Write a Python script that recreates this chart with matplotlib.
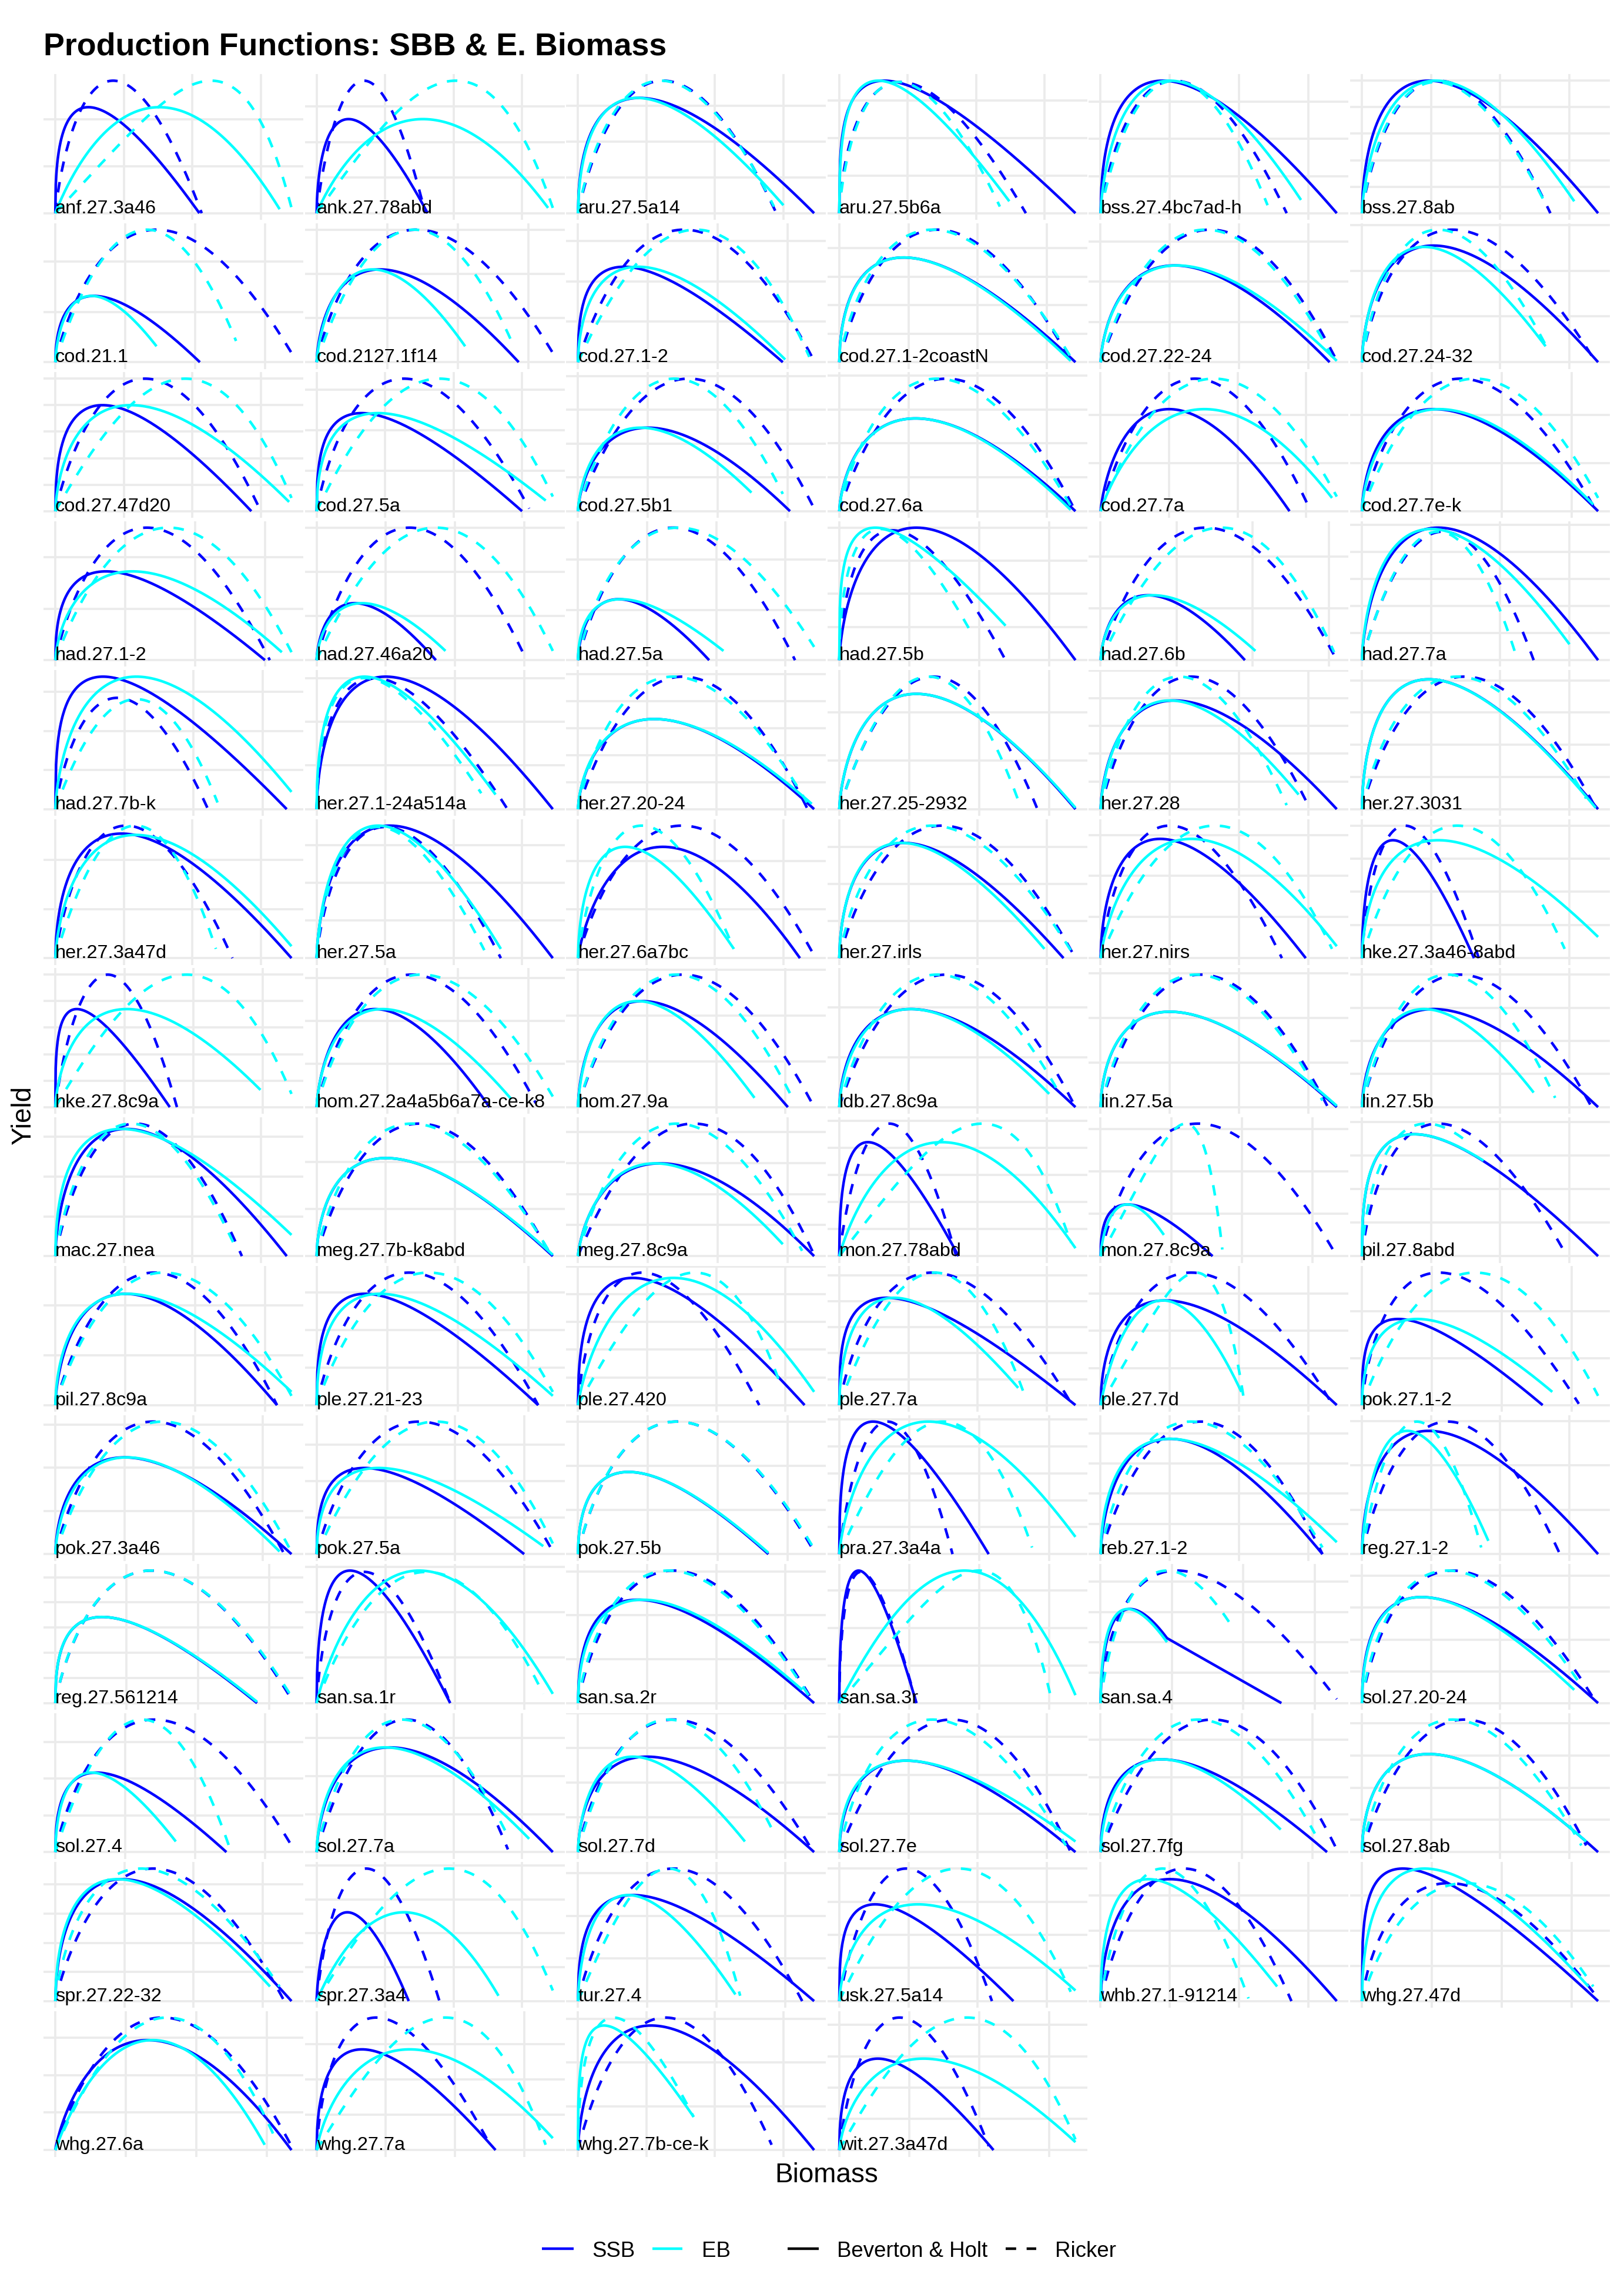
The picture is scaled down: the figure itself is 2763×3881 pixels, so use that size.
import numpy as np
import matplotlib
matplotlib.use("Agg")
import matplotlib.pyplot as plt
from matplotlib.lines import Line2D

plt.rcParams['font.family'] = ['Liberation Sans', 'DejaVu Sans']

# stock names, in panel order (6 per row)
stocks = [
    "anf.27.3a46", "ank.27.78abd", "aru.27.5a14", "aru.27.5b6a", "bss.27.4bc7ad-h", "bss.27.8ab",
    "cod.21.1", "cod.2127.1f14", "cod.27.1-2", "cod.27.1-2coastN", "cod.27.22-24", "cod.27.24-32",
    "cod.27.47d20", "cod.27.5a", "cod.27.5b1", "cod.27.6a", "cod.27.7a", "cod.27.7e-k",
    "had.27.1-2", "had.27.46a20", "had.27.5a", "had.27.5b", "had.27.6b", "had.27.7a",
    "had.27.7b-k", "her.27.1-24a514a", "her.27.20-24", "her.27.25-2932", "her.27.28", "her.27.3031",
    "her.27.3a47d", "her.27.5a", "her.27.6a7bc", "her.27.irls", "her.27.nirs", "hke.27.3a46-8abd",
    "hke.27.8c9a", "hom.27.2a4a5b6a7a-ce-k8", "hom.27.9a", "ldb.27.8c9a", "lin.27.5a", "lin.27.5b",
    "mac.27.nea", "meg.27.7b-k8abd", "meg.27.8c9a", "mon.27.78abd", "mon.27.8c9a", "pil.27.8abd",
    "pil.27.8c9a", "ple.27.21-23", "ple.27.420", "ple.27.7a", "ple.27.7d", "pok.27.1-2",
    "pok.27.3a46", "pok.27.5a", "pok.27.5b", "pra.27.3a4a", "reb.27.1-2", "reg.27.1-2",
    "reg.27.561214", "san.sa.1r", "san.sa.2r", "san.sa.3r", "san.sa.4", "sol.27.20-24",
    "sol.27.4", "sol.27.7a", "sol.27.7d", "sol.27.7e", "sol.27.7fg", "sol.27.8ab",
    "spr.27.22-32", "spr.27.3a4", "tur.27.4", "usk.27.5a14", "whb.27.1-91214", "whg.27.47d",
    "whg.27.6a", "whg.27.7a", "whg.27.7b-ce-k", "wit.27.3a47d",
]

# each curve: (biomass at max yield, max yield, last biomass, yield at last biomass)
# relative units: panel's largest biomass / yield ~ 1
ssb_bh = [
    (0.14, 0.80, 0.61, 0), (0.135, 0.71, 0.47, 0), (0.26, 0.87, 1.0, 0), (0.19, 1.0, 1.0, 0), (0.26, 1.0, 0.99, 0), (0.28, 1.0, 0.99, 0),
    (0.16, 0.50, 0.60, 0), (0.26, 0.70, 0.83, 0), (0.19, 0.72, 0.85, 0), (0.27, 0.79, 0.99, 0), (0.31, 0.73, 0.96, 0), (0.30, 0.88, 0.99, 0),
    (0.20, 0.80, 0.83, 0), (0.19, 0.74, 0.87, 0), (0.29, 0.63, 0.88, 0), (0.32, 0.70, 0.99, 0), (0.29, 0.77, 0.80, 0), (0.30, 0.77, 0.98, 0),
    (0.21, 0.67, 0.87, 0), (0.16, 0.43, 0.50, 0), (0.17, 0.46, 0.55, 0), (0.32, 1.0, 0.98, 0), (0.18, 0.49, 0.55, 0), (0.32, 1.0, 0.99, 0),
    (0.20, 1.0, 0.97, 0), (0.29, 1.0, 0.99, 0), (0.32, 0.68, 0.99, 0), (0.32, 0.87, 0.98, 0), (0.31, 0.82, 0.99, 0), (0.28, 0.98, 0.99, 0),
    (0.28, 0.94, 1.0, 0), (0.31, 1.0, 1.0, 0), (0.36, 0.84, 0.94, 0), (0.27, 0.87, 0.94, 0), (0.25, 0.90, 0.86, 0), (0.13, 0.89, 0.47, 0),
    (0.09, 0.74, 0.48, 0), (0.24, 0.74, 0.71, 0), (0.27, 0.80, 0.88, 0), (0.30, 0.74, 0.99, 0), (0.29, 0.72, 0.99, 0), (0.30, 0.74, 0.99, 0),
    (0.30, 0.96, 0.98, 0), (0.29, 0.74, 0.99, 0), (0.34, 0.70, 0.98, 0), (0.12, 0.86, 0.50, 0), (0.11, 0.39, 0.46, 0), (0.22, 0.92, 0.99, 0),
    (0.29, 0.84, 0.92, 0), (0.20, 0.84, 0.91, 0), (0.23, 0.96, 0.95, 0), (0.20, 0.81, 0.99, 0), (0.27, 0.79, 0.99, 0), (0.15, 0.65, 0.75, 0),
    (0.29, 0.73, 0.99, 0), (0.20, 0.65, 0.87, 0), (0.21, 0.62, 0.79, 0), (0.14, 1.0, 0.62, 0), (0.29, 0.87, 0.93, 0), (0.28, 0.93, 0.99, 0),
    (0.19, 0.65, 0.82, 0), (0.14, 1.0, 0.56, 0), (0.25, 0.78, 0.99, 0), (0.08, 1.0, 0.32, 0), (0.12, 0.71, 0.735, 0), (0.25, 0.80, 0.99, 0),
    (0.17, 0.60, 0.71, 0), (0.31, 0.79, 1.0, 0), (0.29, 0.72, 0.99, 0), (0.28, 0.69, 0.99, 0), (0.25, 0.70, 0.93, 0), (0.28, 0.74, 0.99, 0),
    (0.28, 0.92, 0.99, 0), (0.13, 0.67, 0.39, 0), (0.23, 0.80, 0.99, 0), (0.15, 0.73, 0.73, 0), (0.29, 0.92, 0.99, 0), (0.17, 1.0, 0.98, 0),
    (0.38, 0.83, 0.97, 0), (0.19, 0.76, 0.75, 0), (0.31, 0.94, 1.0, 0), (0.16, 0.69, 0.64, 0),
]

ssb_ricker = [
    (0.245, 1.0, 0.62, 0), (0.20, 1.0, 0.46, 0), (0.36, 1.0, 0.84, 0), (0.26, 0.99, 0.79, 0), (0.31, 1.0, 0.78, 0), (0.32, 1.0, 0.79, 0),
    (0.42, 1.0, 0.98, 0.07), (0.41, 1.0, 0.97, 0.07), (0.44, 1.0, 0.98, 0.01), (0.41, 1.0, 0.97, 0.01), (0.46, 1.0, 0.99, 0.01), (0.38, 1.0, 0.98, 0),
    (0.38, 1.0, 0.87, 0), (0.37, 1.0, 0.90, 0.02), (0.46, 1.0, 0.98, 0.02), (0.45, 1.0, 0.99, 0), (0.40, 1.0, 0.89, 0), (0.41, 1.0, 0.96, 0.04),
    (0.38, 1.0, 0.89, 0), (0.39, 1.0, 0.88, 0), (0.40, 1.0, 0.91, 0), (0.22, 0.98, 0.69, 0), (0.40, 1.0, 0.90, 0), (0.34, 0.97, 0.72, 0),
    (0.26, 0.84, 0.64, 0), (0.24, 0.99, 0.80, 0), (0.44, 1.0, 0.96, 0.01), (0.39, 1.0, 0.82, 0.01), (0.38, 1.0, 0.87, 0.03), (0.43, 1.0, 0.98, 0.01),
    (0.30, 1.0, 0.75, 0), (0.29, 0.99, 0.78, 0), (0.44, 1.0, 1.0, 0.02), (0.43, 1.0, 0.99, 0), (0.29, 1.0, 0.76, 0), (0.18, 1.0, 0.49, 0),
    (0.22, 1.0, 0.51, 0), (0.39, 1.0, 0.90, 0.03), (0.44, 1.0, 0.99, 0), (0.45, 1.0, 0.99, 0), (0.42, 1.0, 0.95, 0.01), (0.41, 1.0, 0.96, 0.01),
    (0.34, 1.0, 0.79, 0), (0.43, 1.0, 0.98, 0.01), (0.48, 1.0, 0.98, 0.01), (0.21, 1.0, 0.49, 0), (0.40, 1.0, 0.97, 0), (0.32, 1.0, 0.85, 0.03),
    (0.41, 1.0, 0.92, 0), (0.38, 1.0, 0.91, 0), (0.27, 1.0, 0.76, 0), (0.39, 1.0, 0.97, 0.02), (0.38, 1.0, 0.97, 0.01), (0.32, 1.0, 0.90, 0.01),
    (0.41, 1.0, 0.96, 0), (0.43, 1.0, 0.99, 0.02), (0.41, 1.0, 0.98, 0.02), (0.20, 1.0, 0.47, 0), (0.42, 1.0, 0.93, 0), (0.36, 1.0, 0.83, 0),
    (0.39, 1.0, 0.96, 0.03), (0.20, 0.99, 0.56, 0), (0.40, 1.0, 0.98, 0.03), (0.09, 0.99, 0.32, 0), (0.31, 1.0, 0.96, 0.03), (0.38, 1.0, 0.98, 0.01),
    (0.41, 1.0, 0.98, 0.05), (0.38, 1.0, 0.81, 0.02), (0.40, 1.0, 0.98, 0.02), (0.47, 1.0, 0.97, 0), (0.46, 1.0, 0.97, 0.02), (0.43, 1.0, 0.94, 0.05),
    (0.41, 1.0, 0.96, 0), (0.21, 1.0, 0.52, 0), (0.40, 1.0, 0.94, 0), (0.28, 1.0, 0.64, 0), (0.35, 1.0, 0.80, 0), (0.36, 0.89, 0.98, 0.02),
    (0.44, 1.0, 0.97, 0.03), (0.25, 1.0, 0.73, 0.03), (0.37, 1.0, 0.82, 0.04), (0.25, 1.0, 0.62, 0.03),
]

eb_bh = [
    (0.44, 0.80, 0.95, 0.03), (0.45, 0.71, 0.98, 0.04), (0.25, 0.87, 0.87, 0.06), (0.165, 1.0, 0.72, 0.09), (0.29, 1.0, 0.84, 0.10), (0.31, 1.0, 0.89, 0.09),
    (0.15, 0.50, 0.42, 0.12), (0.23, 0.70, 0.61, 0.12), (0.25, 0.72, 0.86, 0.02), (0.27, 0.79, 0.97, 0.01), (0.32, 0.73, 0.99, 0.01), (0.26, 0.87, 0.77, 0.12),
    (0.32, 0.80, 0.99, 0.07), (0.26, 0.74, 0.97, 0.08), (0.26, 0.63, 0.72, 0.14), (0.32, 0.70, 0.97, 0.01), (0.44, 0.77, 0.98, 0.10), (0.32, 0.77, 0.96, 0.05),
    (0.32, 0.67, 0.94, 0.06), (0.19, 0.43, 0.54, 0.07), (0.18, 0.46, 0.61, 0.07), (0.15, 1.0, 0.69, 0.26), (0.20, 0.49, 0.59, 0.07), (0.29, 0.99, 0.87, 0.12),
    (0.34, 1.0, 0.99, 0.13), (0.20, 1.0, 0.75, 0.11), (0.32, 0.68, 0.98, 0.04), (0.32, 0.87, 0.98, 0.01), (0.29, 0.82, 0.83, 0.11), (0.28, 0.98, 0.98, 0.01),
    (0.34, 0.93, 1.0, 0.09), (0.26, 1.0, 0.78, 0.07), (0.20, 0.84, 0.66, 0.07), (0.26, 0.87, 0.86, 0.07), (0.38, 0.90, 0.99, 0.09), (0.32, 0.89, 0.99, 0.16),
    (0.30, 0.74, 0.86, 0.13), (0.27, 0.74, 0.80, 0.06), (0.25, 0.80, 0.74, 0.07), (0.30, 0.74, 0.88, 0.10), (0.29, 0.72, 0.99, 0.01), (0.26, 0.74, 0.72, 0.11),
    (0.28, 0.96, 1.0, 0.16), (0.29, 0.74, 0.99, 0.01), (0.32, 0.70, 0.85, 0.09), (0.43, 0.86, 0.99, 0.06), (0.11, 0.39, 0.26, 0.16), (0.22, 0.92, 0.51, 0.72),
    (0.30, 0.84, 0.98, 0.10), (0.26, 0.84, 0.97, 0.07), (0.40, 0.96, 0.99, 0.10), (0.23, 0.81, 0.75, 0.13), (0.26, 0.79, 0.59, 0.10), (0.23, 0.65, 0.79, 0.10),
    (0.30, 0.73, 0.94, 0.02), (0.26, 0.65, 0.95, 0.06), (0.21, 0.62, 0.79, 0.01), (0.37, 1.0, 0.98, 0.13), (0.29, 0.87, 0.99, 0.09), (0.19, 0.93, 0.53, 0.10),
    (0.19, 0.65, 0.82, 0.01), (0.43, 1.0, 0.99, 0.07), (0.27, 0.78, 0.94, 0.10), (0.52, 1.0, 0.98, 0.06), (0.11, 0.71, 0.27, 0.46), (0.25, 0.80, 0.89, 0.10),
    (0.15, 0.60, 0.50, 0.08), (0.29, 0.79, 0.90, 0.10), (0.23, 0.72, 0.70, 0.08), (0.28, 0.69, 0.99, 0.08), (0.25, 0.70, 0.74, 0.17), (0.28, 0.74, 0.94, 0.08),
    (0.26, 0.92, 0.90, 0.11), (0.37, 0.67, 0.77, 0.04), (0.21, 0.80, 0.66, 0.05), (0.33, 0.73, 0.99, 0.08), (0.20, 0.92, 0.74, 0.11), (0.26, 1.0, 0.94, 0.11),
    (0.40, 0.83, 0.86, 0.04), (0.39, 0.76, 0.99, 0.09), (0.11, 0.94, 0.49, 0.25), (0.35, 0.69, 0.98, 0.06),
]

eb_ricker = [
    (0.66, 1.0, 1.0, 0.04), (0.59, 1.0, 1.0, 0.04), (0.35, 1.0, 0.83, 0.05), (0.25, 0.99, 0.68, 0.05), (0.31, 1.0, 0.70, 0.06), (0.31, 0.99, 0.77, 0.07),
    (0.38, 1.0, 0.75, 0.16), (0.40, 1.0, 0.80, 0.16), (0.49, 1.0, 0.96, 0.04), (0.39, 1.0, 0.97, 0.04), (0.44, 1.0, 0.97, 0.04), (0.32, 1.0, 0.77, 0.13),
    (0.55, 1.0, 1.0, 0.10), (0.52, 1.0, 1.0, 0.11), (0.40, 1.0, 0.85, 0.13), (0.41, 1.0, 0.97, 0.04), (0.48, 1.0, 1.0, 0.11), (0.47, 1.0, 0.98, 0.10),
    (0.47, 1.0, 0.98, 0.06), (0.50, 1.0, 0.99, 0.07), (0.42, 1.0, 0.99, 0.10), (0.17, 0.99, 0.55, 0.20), (0.46, 1.0, 0.89, 0.06), (0.32, 0.97, 0.64, 0.07),
    (0.34, 0.83, 0.68, 0.05), (0.20, 0.99, 0.69, 0.12), (0.40, 1.0, 0.96, 0.05), (0.37, 1.0, 0.75, 0.03), (0.33, 1.0, 0.78, 0.03), (0.40, 1.0, 0.94, 0.08),
    (0.34, 1.0, 0.68, 0.07), (0.26, 0.99, 0.71, 0.06), (0.27, 1.0, 0.66, 0.07), (0.39, 1.0, 0.97, 0.06), (0.48, 1.0, 0.97, 0.07), (0.40, 1.0, 0.85, 0.07),
    (0.55, 1.0, 0.99, 0.10), (0.43, 1.0, 0.97, 0.08), (0.41, 1.0, 0.89, 0.10), (0.41, 1.0, 0.93, 0.08), (0.40, 1.0, 0.93, 0.05), (0.36, 1.0, 0.81, 0.07),
    (0.32, 1.0, 0.77, 0.04), (0.40, 1.0, 0.98, 0.02), (0.41, 1.0, 0.93, 0.04), (0.60, 1.0, 0.97, 0.10), (0.35, 1.0, 0.50, 0.05), (0.27, 1.0, 0.45, 0.85),
    (0.45, 1.0, 0.98, 0.07), (0.46, 1.0, 0.97, 0.10), (0.49, 1.0, 0.85, 0.15), (0.40, 1.0, 0.78, 0.06), (0.40, 1.0, 0.60, 0.05), (0.47, 1.0, 0.98, 0.07),
    (0.45, 1.0, 0.98, 0.05), (0.50, 1.0, 0.99, 0.08), (0.41, 1.0, 0.98, 0.04), (0.43, 1.0, 0.80, 0.05), (0.38, 1.0, 0.93, 0.05), (0.23, 1.0, 0.50, 0.05),
    (0.39, 1.0, 0.96, 0.05), (0.46, 0.99, 0.95, 0.07), (0.38, 1.0, 0.97, 0.05), (0.58, 1.0, 0.88, 0.03), (0.27, 1.0, 0.53, 0.59), (0.36, 1.0, 0.92, 0.13),
    (0.36, 1.0, 0.72, 0.05), (0.36, 1.0, 0.81, 0.12), (0.38, 1.0, 0.82, 0.15), (0.39, 1.0, 0.95, 0.05), (0.40, 1.0, 0.88, 0.14), (0.38, 1.0, 0.92, 0.05),
    (0.36, 1.0, 0.94, 0.11), (0.56, 1.0, 1.0, 0.08), (0.38, 1.0, 0.68, 0.04), (0.50, 1.0, 0.97, 0.07), (0.26, 1.0, 0.62, 0.02), (0.43, 0.89, 0.96, 0.11),
    (0.46, 1.0, 0.91, 0.06), (0.54, 1.0, 0.96, 0.04), (0.15, 1.0, 0.49, 0.25), (0.53, 1.0, 0.98, 0.08),
]

# san.sa.4 SSB B&H bends at this point, then falls straight to zero
ssb_bh_knee = {"san.sa.4": (0.27, 0.49)}

# spacing of the yield grid lines, same relative units
yield_step = [
    0.355, 0.268, 0.27, 0.284, 0.28, 0.2,
    0.38, 0.333, 0.305, 0.215, 0.304, 0.345,
    0.20, 0.305, 0.255, 0.256, 0.364, 0.364,
    0.388, 0.333, 0.38, 0.25, 0.39, 0.204,
    0.295, 0.33, 0.204, 0.366, 0.209, 0.243,
    0.371, 0.284, 0.367, 0.28, 0.31, 0.25,
    0.2, 0.325, 0.345, 0.376, 0.336, 0.25,
    0.3, 0.355, 0.234, 0.204, 0.32, 0.253,
    0.377, 0.283, 0.209, 0.196, 0.28, 0.355,
    0.326, 0.275, 0.333, 0.203, 0.228, 0.335,
    0.19, 0.343, 0.331, 0.283, 0.229, 0.24,
    0.277, 0.287, 0.262, 0.29, 0.283, 0.243,
    0.22, 0.256, 0.322, 0.25, 0.265, 0.265,
    0.283, 0.267, 0.33, 0.236,
]
BIOMASS_STEP = 0.29

BLUE = "#0000FF"
CYAN = "#00FFFF"
GRID = "#EBEBEB"
LW = 1.07


def shape(x, p, k):
    # generalised surplus production curve
    if abs(p) < 1e-9:
        return x * np.log(k / x)
    return x * (1 - (x / k) ** p) / p


def k_for_peak(px, p):
    if abs(p) < 1e-9:
        return px * np.e
    return px * (1 + p) ** (1 / p)


def production_curve(px, py, ex, ey, n=300):
    '''
    curve through the origin, with its maximum at (px, py)
    and passing through (ex, ey)
    '''
    target = ey / py
    lo, hi = -0.995, 60.0
    for _ in range(120):
        mid = 0.5 * (lo + hi)
        k = k_for_peak(px, mid)
        if shape(ex, mid, k) / shape(px, mid, k) > target:
            lo = mid
        else:
            hi = mid
    p = 0.5 * (lo + hi)
    k = k_for_peak(px, p)
    x = np.linspace(0, ex, n)[1:]
    y = py * shape(x, p, k) / shape(px, p, k)
    return np.r_[0, x], np.r_[0, y]


W, H = 2763, 3881
fig = plt.figure(figsize=(W / 300, H / 300), dpi=300)
fig.patch.set_facecolor('white')

series = [
    (ssb_bh, BLUE, '-'),
    (ssb_ricker, BLUE, (0, (4, 4))),
    (eb_bh, CYAN, '-'),
    (eb_ricker, CYAN, (0, (4, 4))),
]

for i, name in enumerate(stocks):
    r, c = divmod(i, 6)
    left = 74 + c * 444.6
    top = 126 + r * 253.5
    ax = fig.add_axes([left / W, 1 - (top + 248) / H, 442 / W, 248 / H])

    xmax = max(s[0][i][2] for s in series)
    ymax = max(s[0][i][1] for s in series)
    ax.set_xlim(-0.05 * xmax, 1.05 * xmax)
    ax.set_ylim(-0.05 * ymax, 1.05 * ymax)

    ax.set_xticks(np.arange(0, 1.05 * xmax, BIOMASS_STEP))
    ax.set_yticks(np.arange(0, 1.05 * ymax, yield_step[i]))
    ax.grid(True, color=GRID, lw=0.9)
    ax.set_axisbelow(True)
    ax.tick_params(length=0, labelbottom=False, labelleft=False)
    for sp in ax.spines.values():
        sp.set_visible(False)
    ax.set_facecolor('none')

    for data, color, ls in series:
        px, py, ex, ey = data[i]
        if data is ssb_bh and name in ssb_bh_knee:
            kx, ky = ssb_bh_knee[name]
            x, y = production_curve(px, py, kx, ky)
            x = np.r_[x, ex]
            y = np.r_[y, ey]
        else:
            x, y = production_curve(px, py, ex, ey)
        ax.plot(x, y, color=color, lw=LW, ls=ls, solid_capstyle='butt')

    ax.text(0, 0, name, fontsize=7.8, ha='left', va='baseline', color='black')

fig.text(74 / W, 1 - 93 / H, "Production Functions: SBB & E. Biomass",
         fontsize=12.9, fontweight='bold', ha='left', va='baseline')
fig.text(40 / W, 1 - 1898 / H, "Yield", fontsize=11, rotation=90,
         ha='center', va='center')
fig.text(1406 / W, 1 - 3713 / H, "Biomass", fontsize=11,
         ha='center', va='baseline')

# legend
ly = 1 - 3826 / H
keys = [
    (922, 976, BLUE, '-', 1007, "SSB"),
    (1110, 1161, CYAN, '-', 1194, "EB"),
    (1340, 1393, 'black', '-', 1424, "Beverton & Holt"),
    (1711, 1763, 'black', (0, (4, 4)), 1795, "Ricker"),
]
for x0, x1, color, ls, tx, label in keys:
    fig.add_artist(Line2D([x0 / W, x1 / W], [ly, ly], color=color, lw=LW,
                          ls=ls, solid_capstyle='butt'))
    fig.text(tx / W, ly, label, fontsize=8.8, ha='left', va='center_baseline')

fig.savefig("out.png", dpi=300, facecolor='white')
